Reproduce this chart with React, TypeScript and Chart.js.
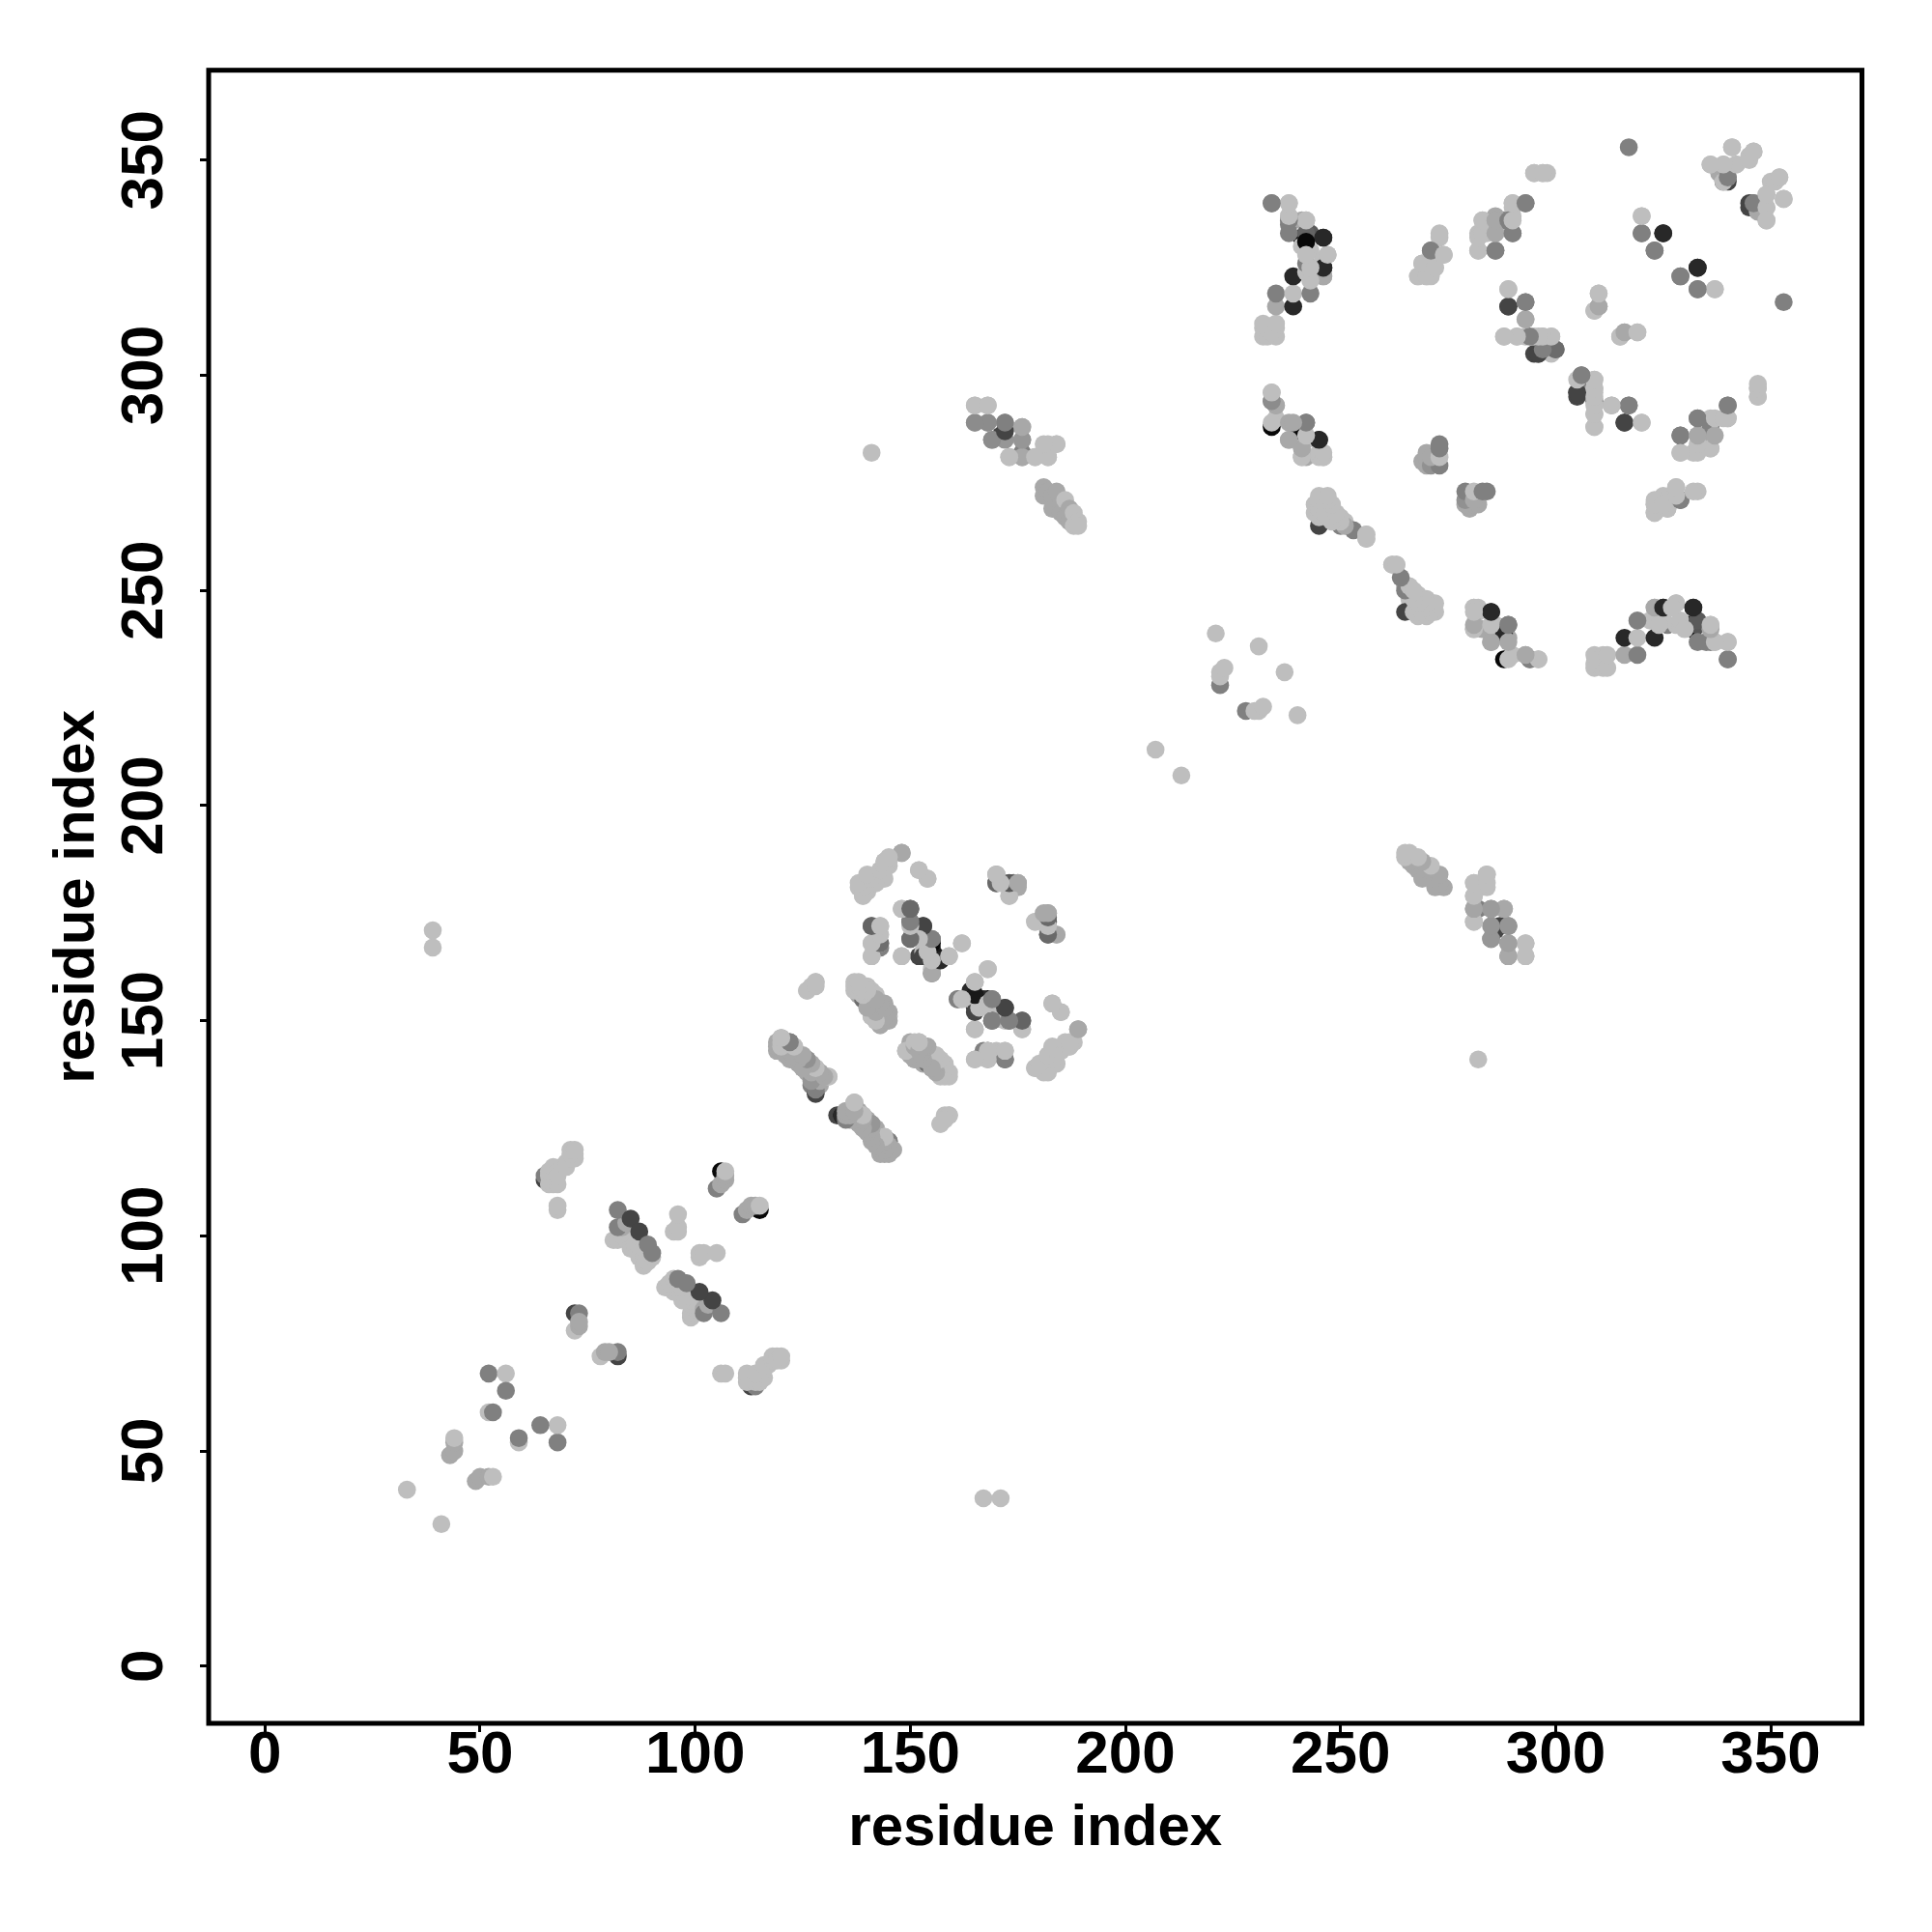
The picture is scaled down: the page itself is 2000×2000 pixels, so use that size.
import React, { useEffect, useRef } from "react";
import { Chart, registerables } from "chart.js";

Chart.register(...registerables);

type Contact = [number, number, number];

const L = 190, S = 168, G = 128, D = 68, K = 40, B = 8;

const tickValues = [0, 50, 100, 150, 200, 250, 300, 350];
const axisLabel = "residue index";

const nTerminal: Contact[] = [
  [33, 41, L], [43, 49, S], [44, 50, S], [44, 52, S], [44, 53, L], [39, 167, L], [39, 171, L],
  [52, 59, L], [53, 59, G], [52, 68, G], [56, 68, L], [56, 64, G],
];
const sheet65: Contact[] = [
  [65, 113, D], [65, 114, G], [66, 113, G], [66, 112, L], [67, 112, L], [68, 112, L], [66, 114, L], [66, 115, L],
  [67, 116, L], [68, 115, L], [68, 114, L], [69, 116, L], [70, 117, L], [70, 116, L], [71, 118, L], [72, 118, L],
  [72, 119, L], [71, 119, L], [71, 120, L], [72, 120, L], [68, 106, L], [68, 107, L],
];
const turn72: Contact[] = [
  [72, 82, D], [73, 82, G], [72, 78, L], [73, 79, S], [73, 80, S],
];
const hairpin82: Contact[] = [
  [87, 98, D], [81, 99, L], [82, 99, L], [83, 100, L], [84, 101, L], [83, 101, L], [84, 99, L], [85, 100, L],
  [85, 99, L], [85, 97, L], [86, 98, L], [87, 97, L], [87, 95, L], [88, 95, L], [88, 97, L], [88, 93, L],
  [89, 94, L], [90, 95, L], [83, 102, S], [82, 102, G], [84, 103, S], [82, 106, G], [85, 104, D], [87, 101, D],
  [89, 98, G], [90, 96, G],
];
const pair96: Contact[] = [
  [95, 101, L], [96, 101, L], [96, 102, L], [96, 105, L],
];
const pair105: Contact[] = [
  [106, 115, B], [105, 111, G], [106, 112, S], [107, 113, S], [107, 114, S], [107, 115, L],
];
const band120: Contact[] = [
  [128, 134, K], [122, 145, G], [119, 143, S], [119, 144, S], [119, 145, S], [120, 146, S], [120, 144, S], [121, 145, S],
  [122, 144, S], [123, 144, L], [121, 142, S], [122, 141, S], [123, 141, S], [124, 140, S], [125, 141, S], [126, 141, 150],
  [125, 139, S], [126, 138, S], [127, 137, S], [127, 135, G], [127, 139, S], [128, 139, L], [128, 136, S], [128, 135, S],
  [129, 135, S], [129, 137, S], [131, 137, L], [126, 157, L], [128, 159, L], [127, 158, L],
];
const band133: Contact[] = [
  [133, 128, D], [134, 128, G], [136, 129, S], [136, 127, 150], [137, 131, L], [137, 130, S], [138, 129, S], [138, 127, S],
  [139, 128, L], [140, 127, S], [139, 125, S], [141, 126, 145], [141, 124, S], [142, 123, S], [142, 125, S], [143, 122, S],
  [144, 121, S], [144, 120, L], [145, 120, L], [144, 123, L], [145, 122, G], [146, 120, L], [157, 126, L], [158, 128, L],
  [159, 128, L],
];
const band138: Contact[] = [
  [140, 154, 110], [138, 158, L], [139, 158, L], [140, 158, L], [138, 156, S], [140, 156, S], [141, 157, L], [142, 156, L],
  [139, 155, S], [141, 153, S], [142, 152, S], [143, 153, S], [144, 154, S], [141, 151, S], [142, 150, S], [143, 150, S],
  [143, 149, L], [144, 151, S], [145, 151, L], [143, 152, S], [144, 153, S], [145, 152, L],
];
const band149: Contact[] = [
  [155, 139, 110], [149, 143, S], [150, 145, S], [151, 144, S], [152, 145, S], [150, 142, L], [151, 141, L], [152, 142, S],
  [153, 144, S], [154, 143, S], [154, 141, S], [155, 140, S], [153, 140, S], [155, 142, S], [156, 139, L], [157, 139, L],
  [157, 140, L], [157, 137, L], [158, 137, L], [158, 138, L], [159, 137, L], [159, 138, L],
];
const band138Upper: Contact[] = [
  [138, 181, L], [139, 179, L], [139, 182, L], [140, 180, L], [141, 183, L], [142, 182, L], [143, 184, L], [143, 185, L],
  [144, 183, L], [144, 186, L], [145, 186, L], [144, 187, L], [145, 187, L], [148, 189, S], [152, 185, L], [154, 183, L],
];
const core141: Contact[] = [
  [141, 172, G], [143, 172, L], [143, 167, G], [141, 168, L], [143, 168, L], [141, 165, L], [148, 165, L], [148, 176, L],
  [150, 176, 100], [150, 173, G], [150, 169, G], [155, 167, K], [152, 165, D], [153, 166, L], [156, 165, 25],
  [153, 172, D], [155, 161, G], [155, 162, L], [154, 168, L], [155, 169, G], [159, 165, L], [162, 168, L],
];
const core164: Contact[] = [
  [161, 155, S], [164, 157, K], [165, 153, D], [168, 155, B], [164, 155, L], [166, 154, L], [165, 159, L], [168, 162, L],
  [169, 155, G], [172, 153, D], [169, 152, L], [169, 150, 110], [172, 150, L], [173, 150, G], [176, 148, L], [176, 150, 105], [165, 148, L],
  [183, 154, L], [185, 152, L], [189, 148, S],
];
const band179: Contact[] = [
  [165, 141, L], [168, 143, 110], [168, 141, L], [170, 143, L], [172, 141, 100], [172, 143, L],
  [179, 139, L], [181, 139, L], [182, 138, L], [182, 142, L], [183, 141, L], [184, 140, L], [185, 143, L], [186, 144, L],
  [187, 144, L], [188, 145, L],
];
const cap170: Contact[] = [
  [170, 184, S], [170, 182, 105], [173, 179, L], [172, 182, L], [174, 182, 105], [175, 182, S], [175, 181, S],
  [179, 173, L], [182, 173, 90], [182, 175, S], [182, 170, 105], [182, 171, L], [184, 170, L],
];
const long165: Contact[] = [
  [141, 282, L], [165, 293, L], [168, 293, L], [165, 289, S], [171, 286, D], [168, 289, 160], [172, 289, 150], [169, 285, 150],
  [172, 285, 150], [176, 288, S], [176, 285, 155], [173, 281, L], [176, 281, 165], [179, 281, L], [182, 281, L], [182, 284, L], [184, 284, L],
];
const long181: Contact[] = [
  [181, 274, S], [181, 272, S], [182, 273, S], [183, 272, S], [183, 269, S], [184, 273, S], [185, 270, S], [185, 268, S],
  [186, 271, L], [186, 267, S], [187, 266, S], [187, 269, S], [188, 268, L], [188, 265, L], [189, 266, L], [189, 265, L],
];
const isolated207: Contact[] = [
  [207, 213, L], [222, 228, G], [222, 231, L], [222, 230, L], [223, 232, L], [221, 240, L], [231, 237, L],
];
const cluster232Low: Contact[] = [
  [234, 288, B], [240, 288, K], [235, 290, L], [234, 289, L], [234, 294, G], [234, 296, L], [235, 293, S], [238, 285, S], [238, 289, S], [241, 281, L], [242, 281, S],
  [242, 285, L], [242, 289, G], [245, 285, K], [246, 281, L], [245, 281, L],
];
const band244: Contact[] = [
  [245, 265, D], [246, 267, D], [244, 268, L], [244, 270, L], [245, 268, L], [245, 267, L], [245, 269, L], [245, 271, L], [246, 270, L], [247, 270, L],
  [247, 268, L], [248, 269, L], [248, 267, L], [249, 266, L], [250, 265, G], [251, 266, L], [250, 267, L], [253, 264, G], [256, 262, L], [256, 263, L],
];
const cluster234High: Contact[] = [
  [232, 309, L], [233, 309, L], [235, 309, L], [232, 311, L], [233, 311, L], [235, 311, L], [234, 310, L], [232, 312, L], [235, 312, L],
  [235, 316, S], [239, 316, K], [235, 319, G], [239, 319, L], [243, 319, G], [239, 323, K], [246, 323, S], [242, 324, L],
  [246, 325, K], [242, 329, L], [243, 329, L], [247, 328, L], [246, 327, L], [241, 332, B], [242, 333, 85], [243, 333, 90], [241, 330, L], [246, 332, K],
  [238, 333, G], [238, 335, G], [234, 340, G], [238, 340, L], [238, 337, L], [241, 336, S], [242, 336, L],
];
const band268: Contact[] = [
  [268, 323, L], [269, 326, L], [271, 323, L], [270, 323, L], [271, 326, L], [270, 325, L], [271, 329, G], [272, 328, L], [273, 332, L], [274, 328, L],
];
const near270: Contact[] = [
  [269, 280, S], [270, 279, S], [270, 281, S], [270, 282, S], [271, 279, 145], [273, 279, G], [271, 281, S], [273, 281, L], [273, 283, G], [273, 284, G],
];
const cluster281High: Contact[] = [
  [286, 329, G], [288, 336, G], [282, 329, L], [282, 333, L], [283, 336, L], [284, 333, L], [286, 333, S], [286, 337, S], [290, 333, G],
  [290, 337, L], [290, 340, L], [290, 339, L], [293, 340, G], [295, 347, L], [297, 347, L], [298, 347, L],
];
const cluster288: Contact[] = [
  [295, 305, D], [296, 305, D], [288, 309, L], [291, 309, L], [293, 309, L], [289, 316, D], [293, 317, G], [289, 320, L], [293, 313, L],
  [295, 309, L], [297, 309, L], [299, 309, L], [299, 305, L], [300, 306, G],
];
const cluster305: Contact[] = [
  [305, 296, D], [306, 300, 108], [306, 297, G], [309, 299, L], [309, 297, L], [309, 296, L], [309, 294, G], [309, 291, L], [309, 288, L],
  [313, 293, S], [316, 289, D], [317, 293, G], [320, 289, L],
  [309, 315, L], [310, 316, S], [310, 319, L], [315, 309, L], [316, 310, S], [319, 310, L],
];
const cluster323: Contact[] = [
  [320, 337, L], [320, 333, G], [325, 333, K], [323, 329, G], [333, 325, K], [329, 323, G], [333, 320, G], [337, 320, L], [353, 317, G],
];
const cluster329: Contact[] = [
  [329, 282, L], [332, 282, L], [333, 283, L], [336, 283, L], [329, 286, G], [333, 286, S], [336, 286, S], [336, 289, G],
  [333, 290, G], [336, 290, L], [340, 290, L], [340, 293, G], [347, 295, L], [347, 297, L],
  [323, 268, L], [323, 270, L], [326, 269, L], [325, 272, L], [329, 271, G], [328, 274, L], [333, 273, L],
];
const cluster339: Contact[] = [
  [339, 345, D], [340, 345, D], [338, 347, S], [340, 346, G], [339, 349, L], [336, 349, L], [341, 353, L], [342, 349, L], [345, 351, L], [346, 352, L],
  [345, 339, L], [346, 340, G], [349, 342, L], [349, 339, L], [349, 336, L], [353, 341, L], [350, 345, L], [352, 346, L],
];
const bandBottom: Contact[] = [
  [262, 256, L], [263, 256, L], [265, 251, S], [266, 250, L], [266, 248, L],
  [267, 247, L], [268, 246, L], [268, 249, L], [269, 245, L], [270, 245, L], [270, 248, L], [271, 247, L], [271, 245, L], [272, 245, L], [272, 247, L],
  [282, 245, L], [281, 246, L], [282, 246, L], [281, 241, L], [283, 241, S], [285, 245, K], [287, 241, B], [285, 238, S], [286, 242, L],
  [289, 242, G], [289, 239, S], [293, 235, S], [294, 234, 140], [296, 234, L],
  [333, 242, 100], [331, 242, B], [323, 246, S], [325, 246, K], [326, 242, G], [322, 243, L], [325, 243, L], [328, 247, L], [328, 242, L],
  [332, 246, K], [336, 242, L], [336, 238, G], [337, 238, L], [340, 238, L], [340, 234, G],
];
const bandRight: Contact[] = [
  [282, 176, G], [281, 176, S], [285, 176, 150], [285, 169, 140], [288, 176, S], [287, 172, D], [289, 172, G], [289, 168, 140],
  [289, 165, 140], [293, 165, L], [293, 168, L], [281, 182, L], [284, 184, L], [284, 181, L], [281, 179, L], [281, 173, L],
];

const contacts: Contact[] = [
  ...nTerminal, ...sheet65, ...turn72, ...hairpin82, ...pair96, ...pair105, ...band120, ...band133, ...band138,
  ...band149, ...band138Upper, ...core141, ...core164, ...band179, ...cap170, ...long165, ...long181, ...isolated207,
  ...cluster232Low, ...band244, ...cluster234High, ...band268, ...near270, ...cluster281High,
  ...cluster288, ...cluster305, ...cluster323, ...cluster329, ...cluster339, ...bandBottom, ...bandRight,
];

function grey(g: number) {
  return `rgb(${g},${g},${g})`;
}

const framePlugin = {
  id: "frame",
  afterDatasetsDraw(chart: any) {
    const { ctx, chartArea: a } = chart;
    ctx.save();
    ctx.strokeStyle = "#000";
    ctx.lineWidth = 5;
    ctx.lineJoin = "miter";
    ctx.strokeRect(a.left, a.top, a.right - a.left, a.bottom - a.top);
    ctx.restore();
  },
};

export default function App() {
  const ref = useRef<HTMLCanvasElement>(null);
  useEffect(() => {
    const both = [...contacts, ...contacts.map(([a, b, g]) => [b, a, g] as Contact)];
    const tickFont = { family: "'Liberation Sans'", size: 62, weight: "bold" as const };
    const titleFont = { family: "'Liberation Sans'", size: 60, weight: "bold" as const };
    const grid = { drawOnChartArea: false, drawTicks: true, tickLength: 9, tickWidth: 3, tickColor: "#000", color: "#000" };
    const chart = new Chart(ref.current!, {
      type: "scatter",
      data: {
        datasets: [
          {
            data: both.map(([a, b]) => ({ x: a, y: b })),
            pointRadius: 9.3,
            pointHoverRadius: 9.3,
            pointBorderWidth: 0,
            pointBackgroundColor: both.map(([, , g]) => grey(g)),
          },
        ],
      },
      options: {
        animation: false,
        responsive: false,
        events: [],
        layout: { padding: { top: 72.7, right: 72.5, left: 0, bottom: 0 } },
        plugins: { legend: { display: false }, tooltip: { enabled: false } },
        scales: {
          x: {
            type: "linear",
            min: -13.09,
            max: 371.2,
            border: { display: false },
            grid,
            afterBuildTicks: (s: any) => { s.ticks = tickValues.map((v) => ({ value: v })); },
            afterFit: (s: any) => { s.height = 216; },
            ticks: { color: "#000", font: tickFont, padding: -12.5, maxRotation: 0, minRotation: 0, autoSkip: false },
            title: { display: true, text: axisLabel, color: "#000", font: titleFont, padding: { top: 0, bottom: 70.5 } },
          },
          y: {
            type: "linear",
            min: -13.3,
            max: 370.9,
            border: { display: false },
            grid,
            afterBuildTicks: (s: any) => { s.ticks = tickValues.map((v) => ({ value: v })); },
            afterFit: (s: any) => { s.width = 216; },
            ticks: { color: "#000", font: tickFont, padding: 4, minRotation: 90, maxRotation: 90, crossAlign: "center", autoSkip: false },
            title: { display: true, text: axisLabel, color: "#000", font: titleFont, padding: { top: 44, bottom: 0 } },
          },
        },
      },
      plugins: [framePlugin],
    } as any);
    return () => chart.destroy();
  }, []);
  return (
    <div style={{ position: "absolute", left: 0, top: 0, width: 2000, height: 2000, background: "#fff" }}>
      <canvas ref={ref} width={2000} height={2000} style={{ display: "block" }} />
    </div>
  );
}
